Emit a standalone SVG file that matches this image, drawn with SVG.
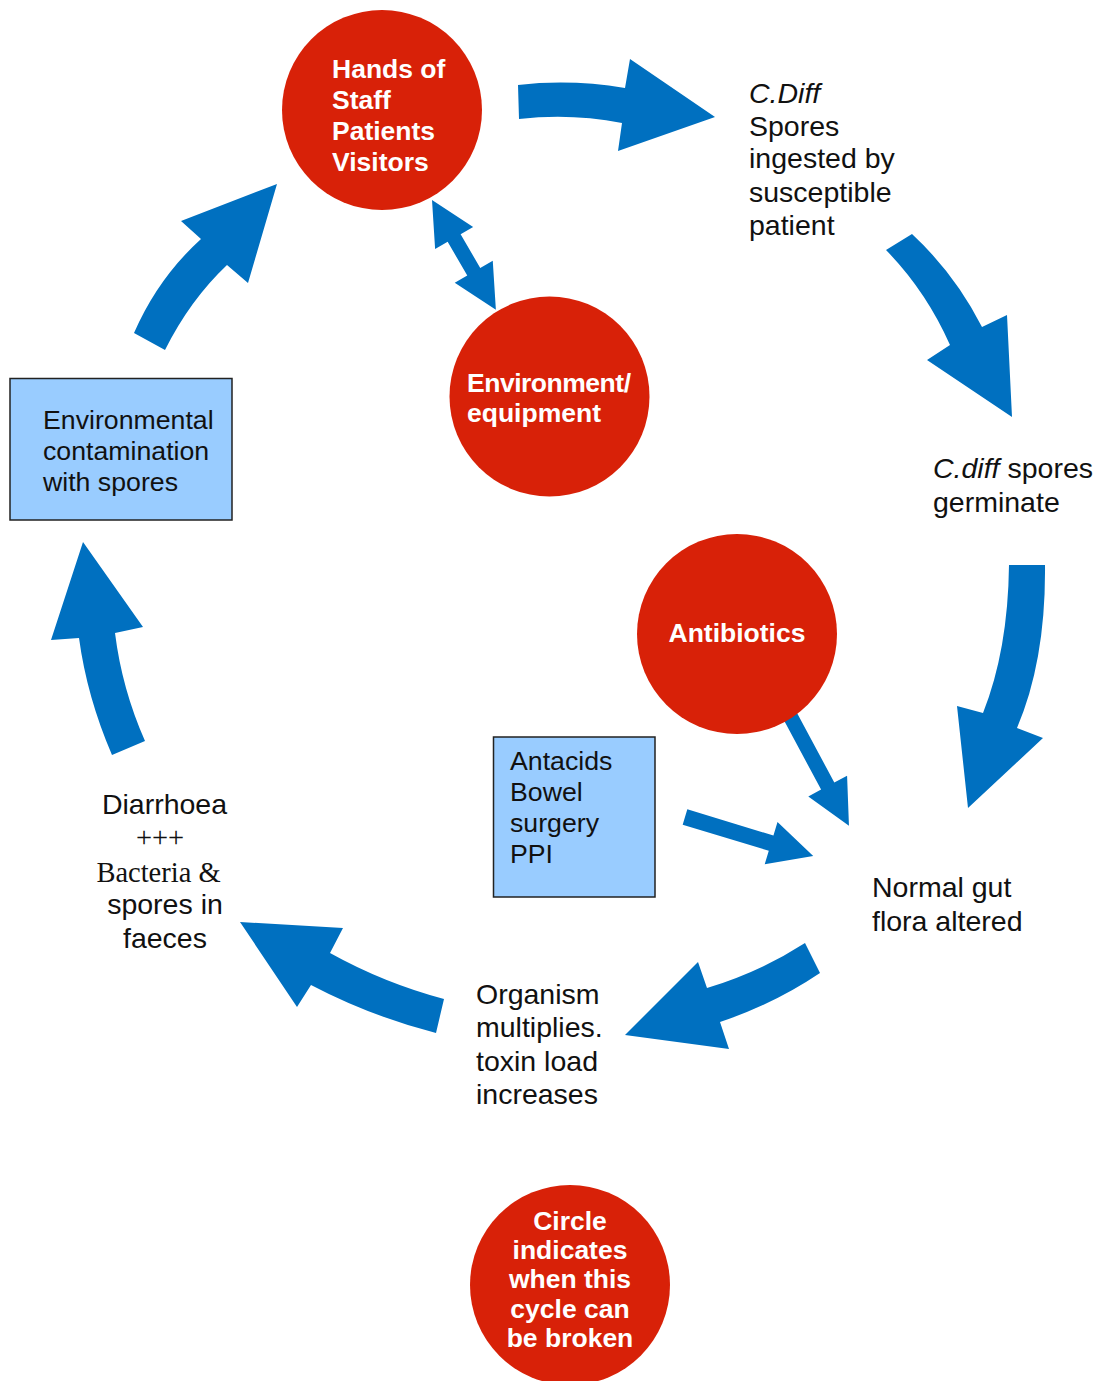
<svg xmlns="http://www.w3.org/2000/svg" width="1099" height="1381" viewBox="0 0 1099 1381">
<style>
.arrow{fill:#0070C0;}
.node-circle{fill:#D82108;}
.box{fill:#99CCFF;stroke:#222;stroke-width:1.5;}
.w{font-family:"Liberation Sans",Arial,sans-serif;font-weight:bold;font-size:26.5px;fill:#fff;}
.t{font-family:"Liberation Sans",Arial,sans-serif;font-size:28.5px;fill:#111;}
.tb{font-family:"Liberation Sans",Arial,sans-serif;font-size:26.7px;fill:#111;}
.s{font-family:"Liberation Serif","Times New Roman",serif;font-size:28.5px;fill:#111;}
</style>
<rect width="1099" height="1381" fill="#fff"/>
<g id="connectors">
  <path class="arrow" d="M518,85 Q571,79 625,88 L630,59 L715,117 L618,151 L622,123 Q571,113 519,119 Z"/>
  <path class="arrow" d="M912,234 Q955,274 982,327 L1007,315 L1012,417 L927,360 L950,345 Q926,291 886,250 Z"/>
  <path class="arrow" d="M1009,565 L1045,565 Q1046,660 1017,728 L1043,738 L968,808 L957,706 L983,713 Q1008,650 1009,565 Z"/>
  <path class="arrow" d="M805,943 L820,973 Q774,1004 720,1022 L729,1049 L625,1035 L698,962 L707,988 Q760,972 805,943 Z"/>
  <path class="arrow" d="M240,922 L343,928 L330,953 Q384,983 444,999 L436,1033 Q370,1016 311,985 L297,1007 Z"/>
  <path class="arrow" d="M83,542 L143,627 L115,633 Q122,689 145,741 L112,755 Q87,697 79,638 L51,640 Z"/>
  <path class="arrow" d="M277,184 L248,283 L227,265 Q190,300 165,350 L134,333 Q158,278 201,239 L181,221 Z"/>
  <polygon class="arrow" transform="translate(432,200) rotate(59.8)" points="0,0 44,-22 44,-7.5 83,-7.5 83,-22 127,0 83,22 83,7.5 44,7.5 44,22"/>
  <polygon class="arrow" transform="translate(788,712) rotate(61.8)" points="0,-7.5 84,-7.5 84,-22 129,0 84,22 84,7.5 0,7.5"/>
  <polygon class="arrow" transform="translate(685,817) rotate(16.9)" points="0,-8 90,-8 90,-22 134,0 90,22 90,8 0,8"/>
</g>
<g id="hands">
  <circle class="node-circle" cx="382" cy="110" r="100"/>
  <text class="w" x="332" y="78">Hands of</text>
  <text class="w" x="332" y="109">Staff</text>
  <text class="w" x="332" y="140">Patients</text>
  <text class="w" x="332" y="171">Visitors</text>
</g>
<g id="environment">
  <circle class="node-circle" cx="549.5" cy="396.5" r="100"/>
  <text class="w" x="467" y="392" textLength="164" lengthAdjust="spacing">Environment/</text>
  <text class="w" x="467" y="422">equipment</text>
</g>
<g id="antibiotics">
  <circle class="node-circle" cx="737" cy="634" r="100"/>
  <text class="w" x="737" y="642" text-anchor="middle">Antibiotics</text>
</g>
<g id="legend">
  <circle class="node-circle" cx="570" cy="1285" r="100"/>
  <text class="w" text-anchor="middle" x="570" y="1230">Circle</text>
  <text class="w" text-anchor="middle" x="570" y="1259">indicates</text>
  <text class="w" text-anchor="middle" x="570" y="1288">when this</text>
  <text class="w" text-anchor="middle" x="570" y="1318">cycle can</text>
  <text class="w" text-anchor="middle" x="570" y="1347">be broken</text>
</g>
<g id="env-contamination">
  <rect class="box" x="10" y="378.5" width="222" height="141.5"/>
  <text class="tb" x="43" y="429">Environmental</text>
  <text class="tb" x="43" y="460">contamination</text>
  <text class="tb" x="43" y="491">with spores</text>
</g>
<g id="antacids">
  <rect class="box" x="493.5" y="737" width="161.5" height="160"/>
  <text class="tb" x="510" y="770">Antacids</text>
  <text class="tb" x="510" y="801">Bowel</text>
  <text class="tb" x="510" y="832">surgery</text>
  <text class="tb" x="510" y="863">PPI</text>
</g>
<g id="spores-ingested">
  <text class="t" x="749" y="103" font-style="italic">C.Diff</text>
  <text class="t" x="749" y="136">Spores</text>
  <text class="t" x="749" y="168">ingested by</text>
  <text class="t" x="749" y="202">susceptible</text>
  <text class="t" x="749" y="235">patient</text>
</g>
<g id="germinate">
  <text class="t" x="933" y="478"><tspan font-style="italic">C.diff</tspan> spores</text>
  <text class="t" x="933" y="512">germinate</text>
</g>
<g id="gut-flora">
  <text class="t" x="872" y="897">Normal gut</text>
  <text class="t" x="872" y="931">flora altered</text>
</g>
<g id="organism">
  <text class="t" x="476" y="1004">Organism</text>
  <text class="t" x="476" y="1037">multiplies.</text>
  <text class="t" x="476" y="1071">toxin load</text>
  <text class="t" x="476" y="1104">increases</text>
</g>
<g id="diarrhoea">
  <text class="t" x="164.5" y="814" text-anchor="middle">Diarrhoea</text>
  <text class="s" x="160" y="847" text-anchor="middle">+++</text>
  <text class="s" x="158.5" y="882" text-anchor="middle">Bacteria &amp;</text>
  <text class="t" x="165" y="914" text-anchor="middle">spores in</text>
  <text class="t" x="165" y="948" text-anchor="middle">faeces</text>
</g>
</svg>
